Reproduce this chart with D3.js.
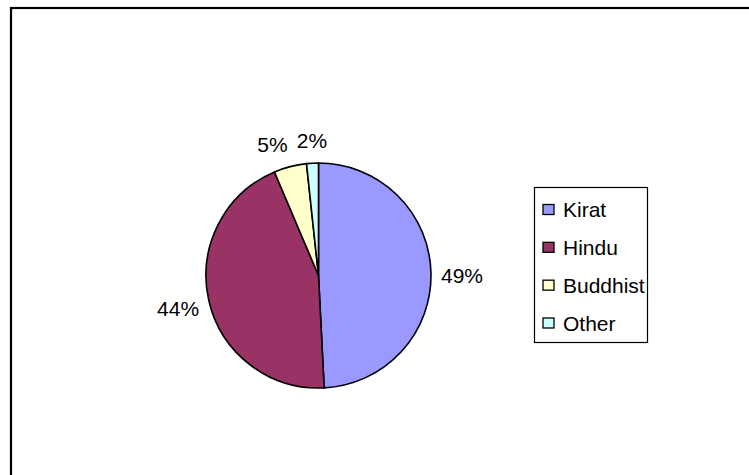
<!DOCTYPE html>
<html>
<head>
<meta charset="utf-8">
<script src="https://cdn.jsdelivr.net/npm/d3@7"></script>
<style>
  html, body { margin: 0; padding: 0; background: #fff; }
  svg { display: block; }
  text { font-family: Arial, "Liberation Sans", sans-serif; fill: #000; }
</style>
</head>
<body>
<svg id="chart" width="749" height="475"></svg>
<script>
// Religion shares (percent)
const categories = ["Kirat", "Hindu", "Buddhist", "Other"];
const values = [49.2, 44.4, 4.7, 1.7];
const colors = ["#9999FF", "#993366", "#FFFFCC", "#CCFFFF"];

const W = 749, H = 475;
const svg = d3.select("#chart");

// chart-area frame (runs past the right and bottom of the view)
svg.append("rect")
  .attr("x", 11).attr("y", 8)
  .attr("width", W + 20).attr("height", H + 20)
  .attr("fill", "#fff").attr("stroke", "#000").attr("stroke-width", 2.2);

const cx = 318.5, cy = 275.5, R = 112.5;
const stretch = 1.05;   // slightly wide glyph rendering
const fontSize = 20;

const total = d3.sum(values);
const pie = d3.pie().sort(null).value(d => d)(values);
const arc = d3.arc().innerRadius(0).outerRadius(R);

const g = svg.append("g").attr("transform", `translate(${cx},${cy})`);

g.selectAll("path.slice")
  .data(pie)
  .join("path")
  .attr("class", "slice")
  .attr("d", arc)
  .attr("fill", (d, i) => colors[i])
  .attr("stroke", "#000")
  .attr("stroke-width", 1.6)
  .attr("stroke-linejoin", "round");

// percentage labels placed just outside the rim
const labelR = R + 10;
g.selectAll("text.pct")
  .data(pie)
  .join("text")
  .attr("class", "pct")
  .each(function (d) {
    const a = (d.startAngle + d.endAngle) / 2;
    const s = Math.sin(a), c = Math.cos(a);
    const px = labelR * s, py = -labelR * c;
    const anchor = s > 0.1 ? "start" : (s < -0.1 ? "end" : "middle");
    // vertical: label sits above the point near the top, below it near the bottom
    let dy;
    if (c > 0.1) dy = -fontSize * 0.25;
    else if (c < -0.1) dy = fontSize * 0.64;
    else dy = fontSize * 0.55;
    d3.select(this)
      .attr("transform", `translate(${px},${py + dy}) scale(${stretch},1)`)
      .attr("text-anchor", anchor)
      .attr("font-size", fontSize)
      .text(Math.round(d.value / total * 100) + "%");
  });

// legend
const lg = svg.append("g");
const lx = 534, ly = 187, lw = 113, lh = 155;
lg.append("rect")
  .attr("x", lx + 0.5).attr("y", ly + 0.5)
  .attr("width", lw).attr("height", lh)
  .attr("fill", "#fff").attr("stroke", "#000").attr("stroke-width", 1.2);

const rowY = d3.scalePoint().domain(categories).range([ly + 23, ly + 136.5]);

const rows = lg.selectAll("g.row")
  .data(categories)
  .join("g")
  .attr("class", "row")
  .attr("transform", d => `translate(0,${rowY(d)})`);

rows.append("rect")
  .attr("x", lx + 9).attr("y", -5.5)
  .attr("width", 11).attr("height", 10)
  .attr("fill", (d, i) => colors[i])
  .attr("stroke", "#000").attr("stroke-width", 1.3);

rows.append("text")
  .attr("transform", `translate(${lx + 29},${7}) scale(${stretch},1)`)
  .attr("font-size", fontSize)
  .text(d => d);
</script>
</body>
</html>
